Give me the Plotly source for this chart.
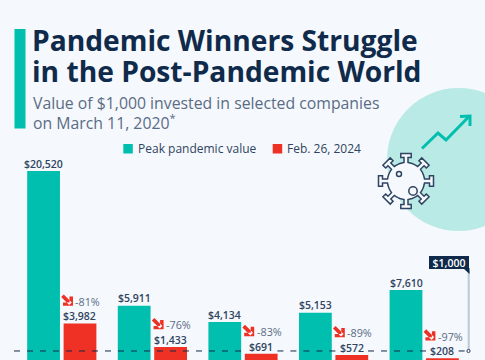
import math
import plotly.graph_objects as go

companies = ["Company A", "Company B", "Company C", "Company D", "Company E"]
peak_values = [20520, 5911, 4134, 5153, 7610]
latest_values = [3982, 1433, 691, 572, 208]
change_labels = ["-81%", "-76%", "-83%", "-89%", "-97%"]
series_names = ["Peak pandemic value", "Feb. 26, 2024"]
reference_value = 1000
reference_label = "$1,000"
title_lines = ["Pandemic Winners Struggle", "in the Post-Pandemic World"]
subtitle_lines = ["Value of $1,000 invested in selected companies", "on March 11, 2020<sup>*</sup>"]

W, H = 485, 360
TEAL, RED, NAVY = "#00bfae", "#ee3124", "#0f2a4a"
BG, SLATE, LABEL = "#f5f8fc", "#5b6c85", "#2f4460"
FONT = "Open Sans"
X_RANGE = [-0.682, 4.671]


def px(x):
    return x / W


def py(y):
    return 1 - y / H


def paper_shape(**kw):
    return dict(xref="paper", yref="paper", **kw)


def svg(points, close=False):
    d = "M" + " L".join(f"{px(x):.5f},{py(y):.5f}" for x, y in points)
    return d + (" Z" if close else "")


def circle(cx, cy, r, **kw):
    return paper_shape(type="circle", x0=px(cx - r), x1=px(cx + r), y0=py(cy + r), y1=py(cy - r), **kw)


def x_from_px(p):
    return X_RANGE[0] + (X_RANGE[1] - X_RANGE[0]) * p / W


fig = go.Figure()
fig.add_bar(x=companies, y=peak_values, name=series_names[0], marker_color=TEAL, showlegend=False)
fig.add_bar(x=companies, y=latest_values, name=series_names[1], marker_color=RED, showlegend=False)
fig.update_traces(marker_line_width=0)

shapes = []
ann = []

# Decorative background
shapes.append(circle(458.5, 159.5, 71.5, fillcolor="#b9eae5", line_width=0, layer="below"))
shapes.append(paper_shape(type="rect", x0=px(14.5), x1=px(25.5), y0=py(128.5), y1=py(29),
                          fillcolor=TEAL, line_width=0))

# Rising arrow
shapes.append(paper_shape(type="path", path=svg([(422, 148.5), (438, 133), (446, 140), (468.5, 117)]),
                          line=dict(color=TEAL, width=3)))
shapes.append(paper_shape(type="path", path=svg([(460, 116.5), (470, 116), (470, 126)]),
                          line=dict(color=TEAL, width=3)))

# Virus icon
vx, vy, br = 406, 181, 18.5
pts = []
for k in range(8):
    a = k * math.pi / 4
    c, s = math.cos(a), math.sin(a)
    def at(r, t):
        return (vx + r * c - t * s, vy + r * s + t * c)
    pts += [at(br, -2), at(br + 5, -2), at(br + 5, -5.2), at(br + 9, -5.2),
            at(br + 9, 5.2), at(br + 5, 5.2), at(br + 5, 2), at(br, 2)]
    t0 = a + math.asin(2 / br)
    t1 = a + math.pi / 4 - math.asin(2 / br)
    for j in range(1, 5):
        t = t0 + (t1 - t0) * j / 5
        pts.append((vx + br * math.cos(t), vy + br * math.sin(t)))
shapes.append(paper_shape(type="path", path=svg(pts, True), fillcolor=BG, line=dict(color=LABEL, width=1.5)))
shapes.append(circle(399, 174, 2.5, fillcolor="rgba(0,0,0,0)", line=dict(color=LABEL, width=1.5)))
shapes.append(circle(413, 191, 4.2, fillcolor="rgba(0,0,0,0)", line=dict(color=LABEL, width=1.5)))

# Reference line: broken over the red bars whose labels sit on it
start = x_from_px(14)
stops = []
for i, v in enumerate(latest_values):
    if v < reference_value:
        stops.append((start, i + 0.02))
        start = i + 0.38
stops.append((start, x_from_px(467)))
for a, b in stops:
    shapes.append(dict(type="line", xref="x", yref="y", x0=a, x1=b, y0=reference_value, y1=reference_value,
                       line=dict(color=NAVY, width=1, dash="6px,7px")))
shapes.append(dict(type="line", xref="paper", yref="y", x0=px(468.7), x1=px(468.7), y0=reference_value, y1=reference_value + 8700,
                   line=dict(color="#bcc8d8", width=2)))
shapes.append(circle(468.5, 351, 1.6, fillcolor=BG, line=dict(color=LABEL, width=1)))
shapes.append(paper_shape(type="path", path=svg([(463, 268), (469.5, 268), (469.5, 274)], True),
                          fillcolor=NAVY, line_width=0))
ann.append(dict(xref="paper", yref="paper", x=px(449.2), y=py(262.5), xanchor="center", yanchor="middle",
                width=40, height=13, bgcolor=NAVY, borderpad=0, borderwidth=0, text=reference_label, showarrow=False,
                font=dict(family=FONT, size=10.5, color="white", weight=600)))

# Value labels above each bar
for i, (p, v) in enumerate(zip(peak_values, latest_values)):
    for off, val in ((-0.2, p), (0.2, v)):
        ann.append(dict(x=i + off, y=val, xref="x", yref="y", yshift=7.3, yanchor="middle", text=f"${val:,}",
                        showarrow=False, font=dict(family=FONT, size=10.5, color=LABEL, weight=600)))

# Drop arrows and percentages
ARROW_PATH = ("M0.5,17.7 L0.5,27 L-3,27 L-3,21 L-9.5,21 L-9.5,17.7 Z "
              "M-11.3,26.4 L-8.7,29 L-0.7,21 L-3.3,18.4 Z")
for i, (v, lab) in enumerate(zip(latest_values, change_labels)):
    shapes.append(dict(type="path", xref="x", yref="y", xsizemode="pixel", ysizemode="pixel",
                       xanchor=i + 0.118, yanchor=v, path=ARROW_PATH, fillcolor=RED, line_width=0))
    ann.append(dict(x=i + 0.118, y=v, xref="x", yref="y", xshift=1, yshift=22, xanchor="left", yanchor="middle",
                    text=lab, showarrow=False, font=dict(family=FONT, size=10.8, color=SLATE)))

# Title block
for (y, line) in zip((39.5, 71.5), title_lines):
    ann.append(dict(xref="paper", yref="paper", x=px(30), y=py(y), xanchor="left", yanchor="middle", text=line, showarrow=False,
                    font=dict(family=FONT, size=28.2, color=NAVY, weight=700)))
for (y, line) in zip((103, 122), subtitle_lines):
    ann.append(dict(xref="paper", yref="paper", x=px(31), y=py(y), xanchor="left", yanchor="middle", text=line, showarrow=False,
                    font=dict(family=FONT, size=15.8, color=SLATE)))

# Legend
for x, name, col in zip((123.3, 272.7), series_names, (TEAL, RED)):
    shapes.append(paper_shape(type="rect", x0=px(x), x1=px(x + 9.5), y0=py(153.5), y1=py(144), fillcolor=col, line_width=0))
    ann.append(dict(xref="paper", yref="paper", x=px(x + 12.5), y=py(148.5), xanchor="left", yanchor="middle", text=name, showarrow=False,
                    font=dict(family=FONT, size=12, color=LABEL)))

fig.update_layout(
    width=W, height=H, autosize=False, margin=dict(l=0, r=0, t=0, b=0),
    paper_bgcolor=BG, plot_bgcolor=BG, barmode="group", bargap=0.196, bargroupgap=0.1,
    showlegend=False, shapes=shapes, annotations=ann,
    xaxis=dict(visible=False, range=X_RANGE),
    yaxis=dict(visible=False, range=[22, 39067]),
    font=dict(family=FONT),
)
fig.write_html("out.html", config=dict(displayModeBar=False),
               post_script="document.body.style.margin='0';document.body.style.overflow='hidden';")
